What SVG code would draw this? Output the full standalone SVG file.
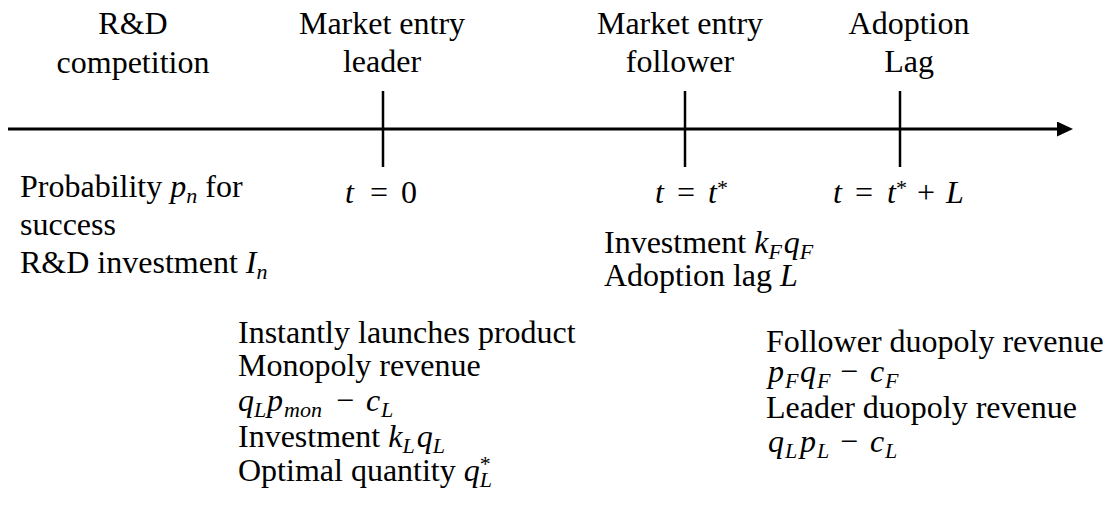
<svg xmlns="http://www.w3.org/2000/svg" width="1116" height="506" viewBox="0 0 1116 506" font-family="'Liberation Serif', 'Times New Roman', 'DejaVu Serif', serif">
<style>
  text { font-family: 'Liberation Serif', 'Times New Roman', 'DejaVu Serif', serif; font-size: 32px; fill: #000; }
  .c { text-anchor: middle; }
  .m { font-style: italic; }
  .s { font-size: 22px; }
  .axis { stroke: #000; stroke-width: 3; fill: none; }
  .tick { stroke: #000; stroke-width: 2.5; }
</style>
<defs>
  <marker id="arrowhead" markerUnits="userSpaceOnUse" markerWidth="16" markerHeight="15" refX="0" refY="7.5" orient="auto">
    <path d="M0,0 L16,7.5 L0,15 Z" fill="#000"/>
  </marker>
</defs>

<!-- time axis and event ticks -->
<g id="connectors">
  <line class="axis" x1="8" y1="129" x2="1057" y2="129" marker-end="url(#arrowhead)"/>
  <line class="tick" x1="383" y1="91" x2="383" y2="167"/>
  <line class="tick" x1="685" y1="91" x2="685" y2="167"/>
  <line class="tick" x1="900" y1="91" x2="900" y2="167"/>
</g>

<!-- stage 1: R&D competition -->
<g id="rd-competition">
  <text class="c" x="133" y="34">R&amp;D</text>
  <text class="c" x="133" y="73">competition</text>
  <text x="20" y="197">Probability <tspan class="m">p</tspan><tspan class="m s" dy="6">n</tspan><tspan dy="-6"> for</tspan></text>
  <text x="20" y="235">success</text>
  <text x="20" y="273">R&amp;D investment <tspan class="m">I</tspan><tspan class="m s" dy="6">n</tspan></text>
</g>

<!-- stage 2: leader enters the market -->
<g id="leader-entry">
  <text class="c" x="382" y="34">Market entry</text>
  <text class="c" x="382" y="72">leader</text>
  <text y="203"><tspan class="m" x="345">t</tspan><tspan x="370">=</tspan><tspan x="401">0</tspan></text>
  <text x="238" y="343">Instantly launches product</text>
  <text x="238" y="376">Monopoly revenue</text>
  <text y="411"><tspan class="m" x="238">q</tspan><tspan class="m s" x="254" dy="6">L</tspan><tspan class="m" x="267" dy="-6">p</tspan><tspan class="m s" x="284" dy="6">mon</tspan><tspan x="336" dy="-6">−</tspan><tspan class="m" x="366">c</tspan><tspan class="m s" x="381" dy="6">L</tspan></text>
  <text x="238" y="447">Investment <tspan class="m">k</tspan><tspan class="m s" dy="6">L</tspan><tspan class="m" dx="2" dy="-6">q</tspan><tspan class="m s" dy="6">L</tspan></text>
  <text x="238" y="481">Optimal quantity <tspan class="m">q</tspan><tspan class="s" dy="-10">*</tspan><tspan class="m s" dx="-11" dy="16">L</tspan></text>
</g>

<!-- stage 3: follower enters the market -->
<g id="follower-entry">
  <text class="c" x="680" y="34">Market entry</text>
  <text class="c" x="680" y="72">follower</text>
  <text y="203"><tspan class="m" x="655">t</tspan><tspan x="677">=</tspan><tspan class="m" x="708">t</tspan><tspan class="s" dy="-8">*</tspan></text>
  <text x="604" y="253">Investment <tspan class="m">k</tspan><tspan class="m s" dy="6">F</tspan><tspan class="m" dx="2" dy="-6">q</tspan><tspan class="m s" dy="6">F</tspan></text>
  <text x="604" y="286">Adoption lag <tspan class="m">L</tspan></text>
</g>

<!-- stage 4: adoption lag ends -->
<g id="adoption-lag">
  <text class="c" x="909" y="34">Adoption</text>
  <text class="c" x="909" y="72">Lag</text>
  <text y="203"><tspan class="m" x="833">t</tspan><tspan x="855">=</tspan><tspan class="m" x="887">t</tspan><tspan class="s" dy="-8">*</tspan><tspan x="917" dy="8">+</tspan><tspan class="m" x="946">L</tspan></text>
  <text x="766" y="352">Follower duopoly revenue</text>
  <text y="382"><tspan class="m" x="768">p</tspan><tspan class="m s" x="785" dy="6">F</tspan><tspan class="m" x="800" dy="-6">q</tspan><tspan class="m s" x="817" dy="6">F</tspan><tspan x="840" dy="-6">−</tspan><tspan class="m" x="870">c</tspan><tspan class="m s" x="885" dy="6">F</tspan></text>
  <text x="766" y="418">Leader duopoly revenue</text>
  <text y="452"><tspan class="m" x="768">q</tspan><tspan class="m s" x="785" dy="6">L</tspan><tspan class="m" x="800" dy="-6">p</tspan><tspan class="m s" x="817" dy="6">L</tspan><tspan x="840" dy="-6">−</tspan><tspan class="m" x="870">c</tspan><tspan class="m s" x="885" dy="6">L</tspan></text>
</g>
</svg>
